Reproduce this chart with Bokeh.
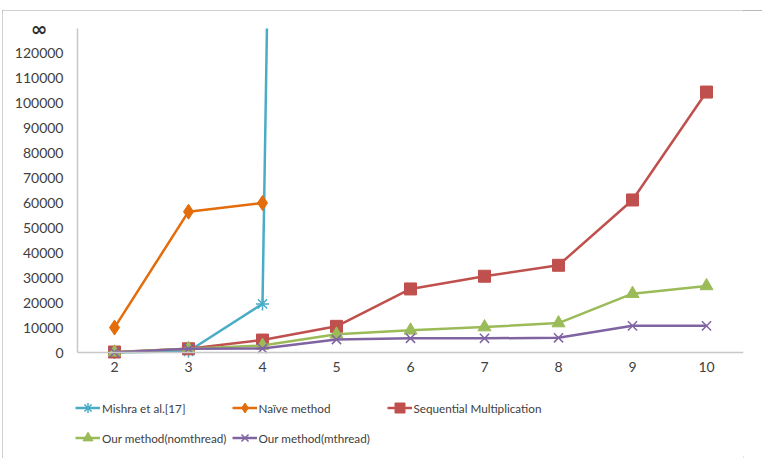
from bokeh.plotting import figure
from bokeh.models import (FixedTicker, Range1d, Legend, LegendItem,
                          BasicTickFormatter, LinearAxis)
from bokeh.embed import file_html
from bokeh.resources import INLINE

sizes = [2, 3, 4, 5, 6, 7, 8, 9, 10]
y_ticks = [0, 10000, 20000, 30000, 40000, 50000, 60000, 70000, 80000, 90000,
           100000, 110000, 120000]
y_infinity = 130000          # axis top, labelled "∞"
infinity_label = {y_infinity: "∞"}

# Mishra et al. shoots up to "∞" just after size 4
mishra_x = [2, 3, 4, 4.06]
mishra = [0, 500, 19500, y_infinity]
naive_x = [2, 3, 4]
naive = [10000, 56500, 60000]
sequential = [200, 1500, 5000, 10500, 25500, 30600, 35000, 61200, 104500]
nomthread = [100, 1500, 2800, 7300, 8900, 10200, 11800, 23600, 26700]
mthread = [50, 1500, 1600, 5200, 5700, 5700, 5900, 10700, 10700]

FONT = "Lato"
TXT = "#404040"

# layout: figure box 760x448 at page (2,10); plot area fills it except right margin
X_START = 1.5 - 75 / 74
Y_TOP = y_infinity * (352 - 10) / (352 - 28)
Y_BOTTOM = -y_infinity * (458 - 352) / (352 - 28)

p = figure(width=760, height=448, output_backend="svg", toolbar_location=None,
           x_range=Range1d(X_START, 10.5), y_range=Range1d(Y_BOTTOM, Y_TOP),
           min_border_left=0, min_border_right=19, min_border_top=0,
           min_border_bottom=0)
p.styles = {"outline": "2px solid #a0a0a0", "outline-offset": "-2px",
            "margin-left": "2px", "margin-top": "10px"}
p.outline_line_color = None
p.xgrid.grid_line_color = None
p.ygrid.grid_line_color = None

for ax in (p.xaxis[0], p.yaxis[0]):
    ax.axis_line_color = "#c8c8c8"
    ax.axis_line_width = 1.5
    ax.major_tick_line_color = None
    ax.minor_tick_line_color = None
    ax.major_tick_out = 0
    ax.major_tick_in = 0
    ax.major_label_text_font = FONT
    ax.major_label_text_font_size = "14px"
    ax.major_label_text_color = TXT

p.xaxis.ticker = FixedTicker(ticks=sizes)
p.xaxis.fixed_location = 0
p.xaxis.bounds = (1.5, 10.5)
p.xaxis.major_label_standoff = 9
p.yaxis.ticker = FixedTicker(ticks=y_ticks)
p.yaxis.fixed_location = 1.5
p.yaxis.bounds = (0, y_infinity)
p.yaxis.formatter = BasicTickFormatter(use_scientific=False)
p.yaxis.major_label_standoff = 14

inf_axis = LinearAxis(fixed_location=1.5, ticker=FixedTicker(ticks=[y_infinity]),
                      major_label_overrides=infinity_label,
                      axis_line_color=None, major_tick_line_color=None,
                      minor_tick_line_color=None, major_tick_out=0, major_tick_in=0,
                      major_label_standoff=30,
                      major_label_text_font="DejaVu Sans",
                      major_label_text_font_style="bold",
                      major_label_text_font_size="20px",
                      major_label_text_color="#303030")
p.add_layout(inf_axis, "left")

series = [
    ("Mishra et al.[17]", mishra_x, mishra, "#4BACC6", "asterisk", 13),
    ("Naïve method", naive_x, naive, "#E46C0A", "diamond", 15),
    ("Sequential Multiplication", sizes, sequential, "#C0504D", "square", 12),
    ("Our method(nomthread)", sizes, nomthread, "#9BBB59", "triangle", 13),
    ("Our method(mthread)", sizes, mthread, "#8064A2", "x", 13),
]

items = []
for name, xs, ys, color, marker, sz in series:
    r1 = p.line(xs, ys, line_color=color, line_width=2.5)
    mx, my = (xs[:3], ys[:3]) if name.startswith("Mishra") else (xs, ys)
    if marker in ("x", "asterisk"):
        r2 = p.scatter(mx, my, marker=marker, size=sz, line_color=color, line_width=1.5)
    else:
        r2 = p.scatter(mx, my, marker=marker, size=sz, fill_color=color, line_color=color)
    items.append(LegendItem(label=name, renderers=[r1, r2]))

legend = Legend(items=items, orientation="horizontal", ncols=3,
                location=(73, 8), border_line_color=None,
                background_fill_alpha=0,
                label_text_font=FONT, label_text_font_size="11.7px",
                label_text_color=TXT, glyph_width=25, glyph_height=25,
                label_standoff=2, label_width=123, label_height=25,
                spacing=5, padding=0, margin=0)
p.add_layout(legend)

open("out.html", "w").write(file_html(p, INLINE))
